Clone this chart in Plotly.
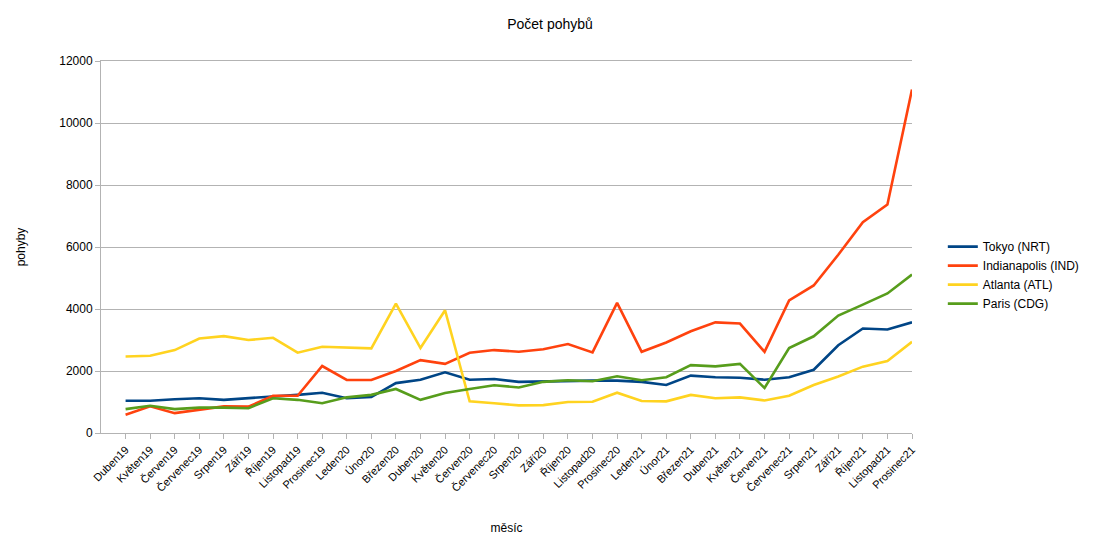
import plotly.graph_objects as go

# Měsíce (osa x)
mesice = [
    "Duben19", "Květen19", "Červen19", "Červenec19", "Srpen19", "Září19",
    "Říjen19", "Listopad19", "Prosinec19", "Leden20", "Únor20", "Březen20",
    "Duben20", "Květen20", "Červen20", "Červenec20", "Srpen20", "Září20",
    "Říjen20", "Listopad20", "Prosinec20", "Leden21", "Únor21", "Březen21",
    "Duben21", "Květen21", "Červen21", "Červenec21", "Srpen21", "Září21",
    "Říjen21", "Listopad21", "Prosinec21",
]

tokyo = [1040, 1040, 1090, 1120, 1070, 1120, 1180, 1230, 1300, 1120, 1160, 1610,
         1720, 1960, 1720, 1740, 1650, 1670, 1690, 1690, 1690, 1650, 1550, 1850,
         1800, 1780, 1720, 1800, 2040, 2830, 3370, 3340, 3570]

indianapolis = [590, 860, 640, 750, 860, 850, 1200, 1200, 2160, 1710, 1710, 2000,
                2350, 2230, 2590, 2675, 2620, 2700, 2870, 2600, 4200, 2620, 2920, 3280,
                3570, 3530, 2620, 4280, 4760, 5750, 6800, 7370, 11080]

atlanta = [2470, 2490, 2675, 3050, 3125, 3000, 3070, 2590, 2780, 2760, 2730, 4170,
           2740, 3960, 1020, 960, 890, 900, 1000, 1010, 1300, 1030, 1020, 1230,
           1120, 1150, 1050, 1200, 1550, 1820, 2140, 2320, 2940]

paris = [770, 880, 770, 820, 820, 800, 1120, 1070, 960, 1150, 1230, 1420,
         1070, 1290, 1420, 1540, 1470, 1650, 1700, 1670, 1830, 1700, 1800, 2190,
         2150, 2230, 1450, 2740, 3120, 3790, 4140, 4500, 5110]

serie = [
    ("Tokyo (NRT)", tokyo, "#004586"),
    ("Indianapolis (IND)", indianapolis, "#ff420e"),
    ("Atlanta (ATL)", atlanta, "#ffd320"),
    ("Paris (CDG)", paris, "#579d1c"),
]

fig = go.Figure()
x_idx = list(range(len(mesice)))
for nazev, hodnoty, barva in serie:
    fig.add_trace(go.Scatter(
        x=x_idx, y=hodnoty, name=nazev, mode="lines",
        line=dict(color=barva, width=2.6),
    ))

font = "Liberation Sans, DejaVu Sans, sans-serif"
grid = "#b3b3b3"

fig.update_layout(
    width=1100, height=537,
    margin=dict(l=101, r=188, t=61, b=104, autoexpand=False),
    paper_bgcolor="white", plot_bgcolor="white",
    font=dict(family=font, size=12, color="#000000"),
    title=dict(text="Počet pohybů", x=0.5, xanchor="center", y=0.955,
               yanchor="middle", font=dict(size=14)),
    legend=dict(x=1.038, y=0.54, xanchor="left", yanchor="top",
                font=dict(size=12), tracegroupgap=0, itemwidth=30,
                bgcolor="rgba(0,0,0,0)"),
    showlegend=True,
)

fig.update_xaxes(
    tickmode="array", tickvals=x_idx, ticktext=mesice, tickangle=-45,
    range=[-1, len(mesice) - 1], automargin=False,
    showgrid=False, showline=True, linecolor=grid, linewidth=1, mirror=True,
    ticks="outside", ticklen=5, tickcolor=grid,
    tickfont=dict(size=11), zeroline=False,
    title=dict(text="měsíc", font=dict(size=12), standoff=30),
)
fig.update_yaxes(
    range=[0, 12000], tickvals=[0, 2000, 4000, 6000, 8000, 10000, 12000],
    tickformat="d", automargin=False,
    showgrid=True, gridcolor=grid, gridwidth=1,
    showline=True, linecolor=grid, linewidth=1,
    ticks="outside", ticklen=5, tickcolor=grid,
    tickfont=dict(size=12), zeroline=False,
    title=dict(text="pohyby", font=dict(size=12), standoff=31),
)

fig.write_html("out.html")
